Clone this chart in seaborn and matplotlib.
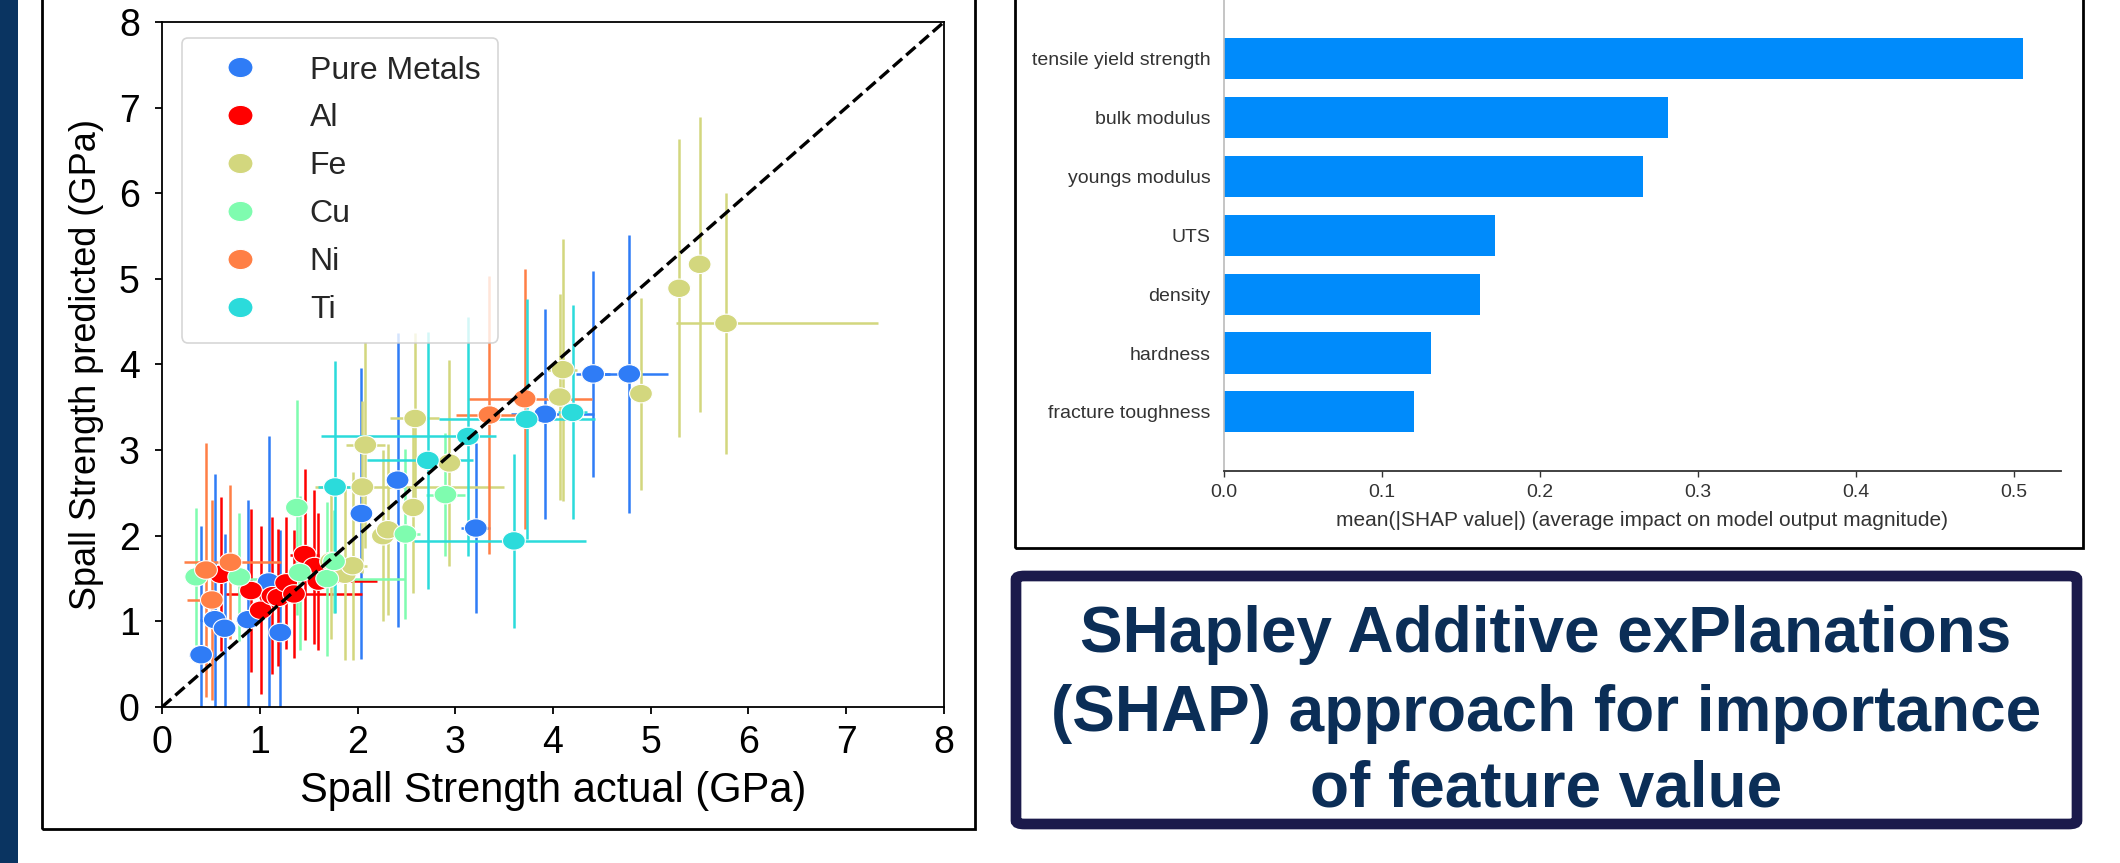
import numpy as np
import pandas as pd
import matplotlib
matplotlib.use("Agg")
import matplotlib.pyplot as plt
import seaborn as sns
from matplotlib.path import Path
from matplotlib.lines import Line2D
from matplotlib.patches import Rectangle, FancyBboxPatch

# ---------------- data: parity plot ----------------
groups = ["Pure Metals", "Al", "Fe", "Cu", "Ni", "Ti"]
group_colors = ["#2f7cf6", "#ff0000", "#d3d77e", "#7ffcaf", "#ff7f45", "#2bdbdb"]

pure_x = [0.40, 0.54, 0.64, 0.88, 1.09, 1.21, 2.04, 2.41, 3.21, 3.92, 4.41, 4.78]
pure_y = [0.61, 1.02, 0.92, 1.02, 1.46, 0.87, 2.26, 2.65, 2.09, 3.42, 3.89, 3.89]
pure_xlo = [0.12, 0.15, 0.10, 0.12, 0.10, 0.10, 0.10, 0.10, 0.15, 0.35, 0.17, 0.30]
pure_xhi = [0.12, 0.15, 0.10, 0.12, 0.10, 0.10, 0.10, 0.10, 0.15, 0.50, 0.17, 0.40]
pure_yerr = [1.50, 1.70, 1.10, 1.40, 1.70, 1.20, 1.70, 1.72, 0.99, 1.23, 1.20, 1.62]

al_x = [0.60, 0.91, 1.01, 1.13, 1.19, 1.27, 1.35, 1.46, 1.56, 1.60]
al_y = [1.55, 1.36, 1.13, 1.30, 1.28, 1.45, 1.32, 1.78, 1.64, 1.47]
al_xlo = [0.08, 0.10, 0.10, 0.12, 0.20, 0.10, 0.70, 0.15, 0.15, 0.60]
al_xhi = [0.08, 0.10, 0.10, 0.12, 0.20, 0.10, 0.70, 0.15, 0.15, 0.60]
al_yerr = [0.90, 0.95, 0.98, 0.92, 0.80, 0.77, 0.75, 1.00, 0.90, 0.80]

fe_x = [1.73, 1.87, 1.95, 2.05, 2.08, 2.26, 2.31, 2.57, 2.59, 2.94, 4.07, 4.10, 4.90, 5.29, 5.50, 5.77]
fe_y = [1.70, 1.55, 1.65, 2.57, 3.06, 2.00, 2.07, 2.33, 3.37, 2.85, 3.62, 3.94, 3.66, 4.89, 5.17, 4.48]
fe_xlo = [0.15, 0.10, 0.15, 0.48, 0.20, 0.10, 0.10, 0.10, 0.26, 0.10, 0.10, 0.15, 0.10, 0.10, 0.10, 0.51]
fe_xhi = [0.15, 0.10, 0.15, 1.45, 0.20, 0.10, 0.10, 0.10, 0.24, 0.10, 0.10, 0.15, 0.10, 0.10, 0.10, 1.55]
fe_yerr = [0.90, 1.00, 1.10, 1.00, 1.20, 1.00, 1.00, 1.00, 1.00, 1.20, 1.20, 1.53, 1.12, 1.74, 1.72, 1.52]

cu_x = [0.35, 0.79, 1.38, 1.41, 1.69, 1.76, 2.49, 2.90]
cu_y = [1.52, 1.52, 2.33, 1.57, 1.50, 1.70, 2.02, 2.48]
cu_xlo = [0.10, 0.10, 0.10, 0.10, 0.80, 0.10, 0.15, 0.20]
cu_xhi = [0.10, 0.10, 0.10, 0.10, 0.80, 0.10, 0.15, 0.20]
cu_yerr = [0.80, 0.75, 1.25, 0.90, 0.90, 0.60, 0.99, 0.72]

ni_x = [0.45, 0.51, 0.70, 3.35, 3.71]
ni_y = [1.60, 1.25, 1.69, 3.41, 3.60]
ni_xlo = [0.10, 0.25, 0.48, 0.34, 0.58]
ni_xhi = [0.10, 0.10, 0.52, 0.40, 0.69]
ni_yerr = [1.48, 1.17, 0.90, 1.62, 1.52]

ti_x = [1.77, 2.72, 3.13, 3.60, 3.73, 4.20]
ti_y = [2.57, 2.88, 3.16, 1.94, 3.36, 3.44]
ti_xlo = [0.17, 0.62, 1.50, 1.02, 0.90, 0.15]
ti_xhi = [0.17, 0.46, 0.29, 0.74, 0.70, 0.15]
ti_yerr = [1.47, 1.50, 1.40, 1.02, 1.40, 1.25]

series = {
    "Pure Metals": (pure_x, pure_y, pure_xlo, pure_xhi, pure_yerr),
    "Al": (al_x, al_y, al_xlo, al_xhi, al_yerr),
    "Fe": (fe_x, fe_y, fe_xlo, fe_xhi, fe_yerr),
    "Cu": (cu_x, cu_y, cu_xlo, cu_xhi, cu_yerr),
    "Ni": (ni_x, ni_y, ni_xlo, ni_xhi, ni_yerr),
    "Ti": (ti_x, ti_y, ti_xlo, ti_xhi, ti_yerr),
}

# ---------------- data: SHAP importance ----------------
features = ["tensile yield strength", "bulk modulus", "youngs modulus", "UTS",
            "density", "hardness", "fracture toughness"]
shap_values = [0.506, 0.2815, 0.2655, 0.1718, 0.1626, 0.1312, 0.1207]
shap_ticks = [0.0, 0.1, 0.2, 0.3, 0.4, 0.5]

title_lines = ["SHapley Additive exPlanations",
               "(SHAP) approach for importance",
               "of feature value"]

# ---------------- figure ----------------
sns.set_theme(style="ticks")
plt.rcParams["font.family"] = ["Liberation Sans", "DejaVu Sans"]

W, H = 2120, 863
fig = plt.figure(figsize=(W / 100, H / 100), dpi=100)
fig.patch.set_facecolor("white")

def fx(px):
    return px / W

def fy(py):
    return 1 - py / H

# left navy strip
fig.patches.append(Rectangle((0, 0), fx(18), 1, transform=fig.transFigure,
                             facecolor="#0a3461", edgecolor="none", zorder=0))
# left panel frame
fig.patches.append(Rectangle((fx(42), fy(829)), fx(975 - 42), 0.2 + 829 / H,
                             transform=fig.transFigure, facecolor="none",
                             edgecolor="black", lw=2.0, zorder=1))
# right top panel frame
fig.patches.append(Rectangle((fx(1015), fy(548)), fx(2083 - 1015), 0.2 + 548 / H,
                             transform=fig.transFigure, facecolor="none",
                             edgecolor="black", lw=2.0, zorder=1))
# title box
fig.patches.append(FancyBboxPatch((fx(1016), fy(824)), fx(2077 - 1016), (824 - 576) / H,
                                  boxstyle="round,pad=0,rounding_size=0.004",
                                  transform=fig.transFigure, facecolor="white",
                                  edgecolor="#1b1a4b", lw=7.7, zorder=1))

# ---------------- parity scatter ----------------
ax1 = fig.add_axes([fx(162), fy(707), fx(944 - 162), (707 - 22) / H])

circ = Path.unit_circle()
ellipse = Path(circ.vertices * np.array([1.0, 0.81]), circ.codes)

rows = []
for g in groups:
    xs, ys, xlo, xhi, ye = series[g]
    for a, b in zip(xs, ys):
        rows.append({"actual": a, "predicted": b, "group": g})
df = pd.DataFrame(rows)

for g, c in zip(groups, group_colors):
    xs, ys, xlo, xhi, ye = series[g]
    ax1.errorbar(xs, ys, xerr=[xlo, xhi], yerr=ye, fmt="none", ecolor=c,
                 elinewidth=1.8, capsize=0, zorder=2)

sns.scatterplot(data=df, x="actual", y="predicted", hue="group", hue_order=groups,
                palette=group_colors, marker=ellipse, s=270, edgecolor="white",
                linewidth=0.8, ax=ax1, zorder=3, legend=False)

ax1.plot([0, 8], [0, 8], color="black", ls="--", lw=2.4, zorder=4)
ax1.set_xlim(0, 8)
ax1.set_ylim(0, 8)
ax1.set_xticks(range(0, 9))
ax1.set_yticks(range(0, 9))
for s in ax1.spines.values():
    s.set_visible(True)
    s.set_color("black")
    s.set_linewidth(1.3)
ax1.tick_params(axis="both", direction="out", length=5, width=1.3, colors="black",
                labelsize=27)
ax1.tick_params(axis="x", pad=8)
ax1.tick_params(axis="y", pad=11)
ax1.set_xlabel("Spall Strength actual (GPa)", fontsize=30, labelpad=7, color="black")
ax1.set_ylabel("Spall Strength predicted (GPa)", fontsize=26, labelpad=11, color="black")

handles = [Line2D([], [], ls="", marker=ellipse, markersize=18, markerfacecolor=c,
                  markeredgecolor="white", markeredgewidth=0.8) for c in group_colors]
leg = ax1.legend(handles, groups, loc="upper left", bbox_to_anchor=(0.0256, 0.9766),
                 borderaxespad=0, fontsize=23, labelspacing=0.56, handlelength=2.5,
                 handletextpad=0.95, borderpad=0.55, frameon=True, fancybox=True,
                 framealpha=0.8, edgecolor="#cccccc")
leg.get_frame().set_linewidth(1.2)

# ---------------- SHAP bar chart ----------------
xmax = 0.53
ax2 = fig.add_axes([fx(1223.5), fy(470.7), fx(xmax * 1580), 470.7 / H])
sdf = pd.DataFrame({"feature": features, "value": shap_values})
sns.barplot(data=sdf, x="value", y="feature", orient="h", color="#008bfb",
            saturation=1, width=0.7, linewidth=0, ax=ax2)
ax2.set_xlim(0, xmax)
ax2.set_ylim(len(features), -1)
ax2.set_xticks(shap_ticks)
ax2.set_xticklabels([f"{t:.1f}" for t in shap_ticks])
ax2.spines["top"].set_visible(False)
ax2.spines["right"].set_visible(False)
ax2.spines["left"].set_color("#bbbbbb")
ax2.spines["left"].set_linewidth(1.2)
ax2.spines["bottom"].set_color("#333333")
ax2.spines["bottom"].set_linewidth(1.3)
ax2.tick_params(axis="y", length=0, pad=9.5, labelsize=14, labelcolor="#333333")
ax2.tick_params(axis="x", direction="out", length=4.5, width=1.0, color="#333333",
                labelsize=14, labelcolor="#333333", pad=5)
ax2.set_ylabel("")
ax2.set_xlabel("mean(|SHAP value|) (average impact on model output magnitude)",
               fontsize=15, color="#333333", labelpad=7)

# ---------------- title box text ----------------
for txt, base in zip(title_lines, [652, 731, 806]):
    fig.text(fx(1546), fy(base), txt, ha="center", va="baseline", fontsize=46,
             fontweight="bold", color="#0b2e57")

fig.savefig("out.png", dpi=100)
